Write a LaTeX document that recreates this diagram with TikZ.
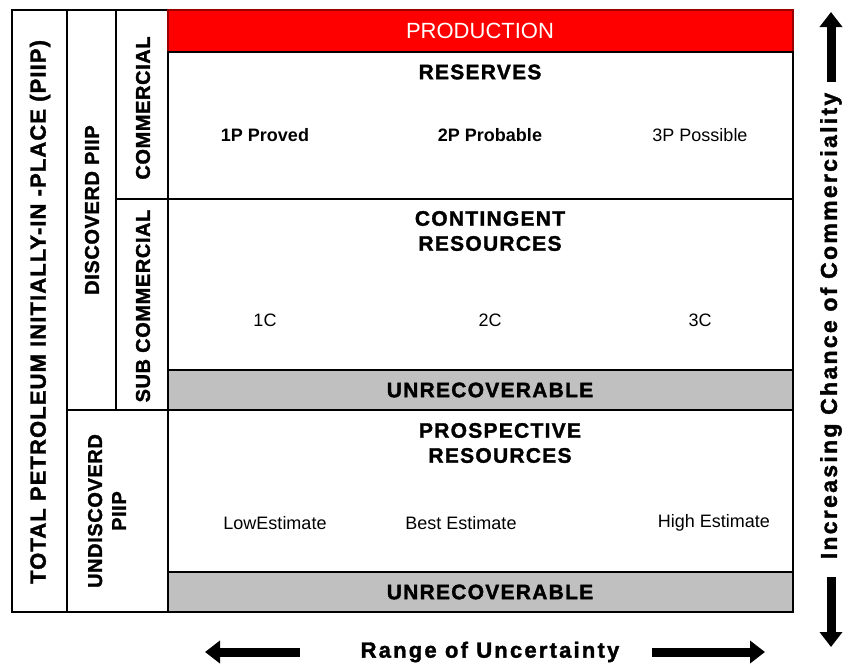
\documentclass[tikz,border=0pt]{standalone}
\usepackage{fontspec}
\setmainfont{Liberation Sans}
\newfontfamily\capsfont{Liberation Sans}[LetterSpace=6,BoldFeatures={FakeBold=1.6}]
\usetikzlibrary{arrows.meta,positioning}

\definecolor{prodred}{HTML}{FF0000}
\definecolor{unrecgray}{HTML}{C0C0C0}

\newcommand\headfont{\capsfont\bfseries\fontsize{21}{25}\selectfont}
\newcommand\sidefont{\capsfont\bfseries\addfontfeatures{LetterSpace=3}\fontsize{20}{24}\selectfont}
\newcommand\classfont{\fontsize{18}{20}\selectfont}

\begin{document}
\begin{tikzpicture}[x=1pt,y=-1pt,
    cell/.style={draw,line width=1.3pt,inner sep=0pt,outer sep=0pt,anchor=north west},
    band/.style={cell,line width=2pt},
    head/.style={font=\headfont,align=center,inner sep=0pt},
    side/.style={font=\sidefont,align=center,inner sep=0pt,rotate=90},
    cls/.style={font=\classfont,inner sep=0pt},
    bigarrow/.style={line width=9pt,-{Triangle[length=15pt,width=22pt]}}]

    \useasboundingbox[fill=white] (0,0) rectangle (851,667);

    % left hand columns
    \node [cell, minimum width=55pt, minimum height=602pt] (total) at (12,10) {};
    \node [cell, minimum width=49pt, minimum height=400pt] (disc) at (67,10) {};
    \node [cell, minimum width=52pt, minimum height=189pt] (comm) at (116,10) {};
    \node [cell, minimum width=52pt, minimum height=211pt] (subcomm) at (116,199) {};
    \node [cell, minimum width=101pt, minimum height=202pt] (undisc) at (67,410) {};

    % resource classes
    \node [band, fill=prodred, draw=red!60!black, minimum width=625pt, minimum height=42pt] (prod) at (168,10) {};
    \node [band, minimum width=625pt, minimum height=147pt] (res) at (168,52) {};
    \node [band, minimum width=625pt, minimum height=171pt] (cont) at (168,199) {};
    \node [band, fill=unrecgray, minimum width=625pt, minimum height=40pt] (unrecA) at (168,370) {};
    \node [band, minimum width=625pt, minimum height=162pt] (prosp) at (168,410) {};
    \node [band, fill=unrecgray, minimum width=625pt, minimum height=40pt] (unrecB) at (168,572) {};

    \node [side, font=\capsfont\bfseries\addfontfeatures{LetterSpace=5}\fontsize{22}{24}\selectfont] (totaltxt) at (40,312) {TOTAL PETROLEUM INITIALLY-IN -PLACE (PIIP)};
    \node [side] (disctxt) at (92,210) {DISCOVERD PIIP};
    \node [side] (commtxt) at (143,108) {COMMERCIAL};
    \node [side] (subtxt) at (143,306) {SUB COMMERCIAL};
    \node [side] (undisctxt) at (107,511) {UNDISCOVERD\\PIIP};

    \node [inner sep=0pt, text=white, font=\fontsize{22}{24}\selectfont] (prodtxt) at (480,31) {PRODUCTION};
    \node [head] (restxt) at (480,72) {RESERVES};
    \node [head] (conttxt) at (490,231) {CONTINGENT\\RESOURCES};
    \node [head] (unrecAtxt) at (490,390) {UNRECOVERABLE};
    \node [head] (prosptxt) at (500,443) {PROSPECTIVE\\RESOURCES};
    \node [head] (unrecBtxt) at (490,592) {UNRECOVERABLE};

    \node [cls, font=\classfont\bfseries] (p1) at (265,135) {1P Proved};
    \node [cls, font=\classfont\bfseries] (p2) at (490,135) {2P Probable};
    \node [cls] (p3) at (700,135) {3P Possible};
    \node [cls] (c1) at (265,320) {1C};
    \node [cls] (c2) at (490,320) {2C};
    \node [cls] (c3) at (700,320) {3C};
    \node [cls] (e1) at (275,523) {LowEstimate};
    \node [cls] (e2) at (461,523) {Best Estimate};
    \node [cls] (e3) at (714,523) {High Estimate};

    % axes
    \node [head, font=\capsfont\bfseries\addfontfeatures{LetterSpace=10}\fontsize{22}{24}\selectfont] (rangetxt) at (490,652) {Range of Uncertainty};
    \node [head, rotate=90, font=\capsfont\bfseries\addfontfeatures{LetterSpace=10}\fontsize{23}{24}\selectfont] (chancetxt) at (831,326) {Increasing Chance of Commerciality};

    \coordinate (leftA) at (300,652);
    \coordinate (leftB) at (205,652);
    \coordinate (rightA) at (652,652);
    \coordinate (rightB) at (765,652);
    \coordinate (upA) at (831,82);
    \coordinate (upB) at (831,12);
    \coordinate (downA) at (831,577);
    \coordinate (downB) at (831,647);
    \draw [bigarrow] (leftA) -- (leftB);
    \draw [bigarrow] (rightA) -- (rightB);
    \draw [bigarrow] (upA) -- (upB);
    \draw [bigarrow] (downA) -- (downB);
\end{tikzpicture}
\end{document}
